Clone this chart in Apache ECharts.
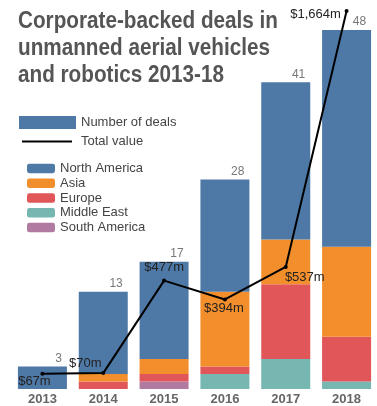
<!DOCTYPE html>
<html>
<head>
<meta charset="utf-8">
<script src="https://cdn.jsdelivr.net/npm/echarts@6/dist/echarts.min.js"></script>
<style>
  html, body { margin: 0; padding: 0; background: #fff; }
  #chart { width: 377px; height: 406px; }
</style>
</head>
<body>
<div id="chart"></div>
<script>
// Years on the category axis
const years = ['2013', '2014', '2015', '2016', '2017', '2018'];

// Number of corporate-backed deals by region
const northAmerica = [3, 11, 13, 15, 21, 29];
const asia         = [0, 1, 2, 10, 6, 12];
const europe       = [0, 1, 1, 1, 10, 6];
const middleEast   = [0, 0, 0, 2, 4, 1];
const southAmerica = [0, 0, 1, 0, 0, 0];

// Total deal value, $m
const totalValue = [67, 70, 477, 394, 537, 1664];
const valueLabels = ['$67m', '$70m', '$477m', '$394m', '$537m', '$1,664m'];

// Where each value label sits relative to its point
const valueLabelOffsets = [[-8, 8], [-18, -10], [0, -13], [-1, 9], [19, 10], [-31, 4]];

const colors = {
  na: '#4e79a7', asia: '#f28e2b', eu: '#e15759', me: '#76b7b2', sa: '#b07aa1'
};
const FONT = "'Liberation Sans', Arial, sans-serif";

const dealTotals = years.map((_, i) =>
  northAmerica[i] + asia[i] + europe[i] + middleEast[i] + southAmerica[i]);

function regionSeries(name, data, color) {
  return {
    name: name, type: 'bar', stack: 'deals', data: data, barWidth: 49,
    itemStyle: { color: color }, emphasis: { disabled: true }
  };
}

const chart = echarts.init(document.getElementById('chart'), null, { renderer: 'canvas' });

chart.setOption({
  animation: false,
  backgroundColor: '#fff',
  graphic: [
    {
      // Condensed bold headline, three lines
      type: 'text', x: 18, y: 8, scaleX: 0.9, z: 10,
      style: {
        text: 'Corporate-backed deals in\nunmanned aerial vehicles\nand robotics 2013-18',
        font: "bold 23px 'Liberation Sans', Arial, sans-serif",
        lineHeight: 27, fill: '#555', verticalAlign: 'top'
      }
    }
  ],
  legend: [
    {
      data: [{ name: 'Number of deals', icon: 'rect' }],
      left: 19, top: 116, padding: 0, itemWidth: 57, itemHeight: 13,
      textStyle: { fontFamily: FONT, fontSize: 13, color: '#444' },
      selectedMode: false
    },
    {
      data: [{ name: 'Total value', icon: 'rect' }],
      left: 22, top: 135, padding: 0, itemWidth: 50, itemHeight: 2,
      textStyle: { fontFamily: FONT, fontSize: 13, color: '#444', padding: [0, 0, 0, 4] },
      selectedMode: false
    },
    {
      data: ['North America', 'Asia', 'Europe', 'Middle East', 'South America'],
      orient: 'vertical', left: 27, top: 161, padding: 0,
      itemWidth: 28, itemHeight: 9.5, itemGap: 0,
      textStyle: { fontFamily: FONT, fontSize: 13, lineHeight: 14.8, color: '#444' },
      selectedMode: false
    }
  ],
  grid: { left: 12, top: 0, width: 368, height: 391, containLabel: false },
  xAxis: {
    type: 'category', data: years,
    axisLine: { show: false }, axisTick: { show: false },
    axisLabel: { margin: 4, fontFamily: FONT, fontWeight: 'bold', fontSize: 13, color: '#666' }
  },
  yAxis: [
    { type: 'value', min: 0, max: 52, show: false, splitLine: { show: false } },
    { type: 'value', min: 0, max: 1712, show: false, splitLine: { show: false } }
  ],
  series: [
    {
      name: 'Number of deals', type: 'bar', stack: 'deals', data: [],
      itemStyle: { color: colors.na }
    },
    regionSeries('South America', southAmerica, colors.sa),
    regionSeries('Middle East', middleEast, colors.me),
    regionSeries('Europe', europe, colors.eu),
    regionSeries('Asia', asia, colors.asia),
    Object.assign(regionSeries('North America', northAmerica, colors.na), {
      label: {
        show: true,
        position: ['100%', 0],
        align: 'right', verticalAlign: 'bottom',
        offset: [-5, -2],
        fontFamily: FONT, fontSize: 12, color: '#777',
        formatter: p => String(dealTotals[p.dataIndex])
      }
    }),
    {
      name: 'Total value', type: 'line', yAxisIndex: 1, z: 5,
      data: totalValue.map((v, i) => ({
        value: v,
        label: {
          show: true, position: 'inside',
          offset: valueLabelOffsets[i],
          align: 'center', verticalAlign: 'middle',
          formatter: () => valueLabels[i]
        }
      })),
      symbol: 'circle', symbolSize: 4,
      itemStyle: { color: '#000' },
      lineStyle: { color: '#000', width: 2 },
      label: { fontFamily: FONT, fontSize: 13, color: '#222' },
      emphasis: { disabled: true }
    }
  ]
});
</script>
</body>
</html>
